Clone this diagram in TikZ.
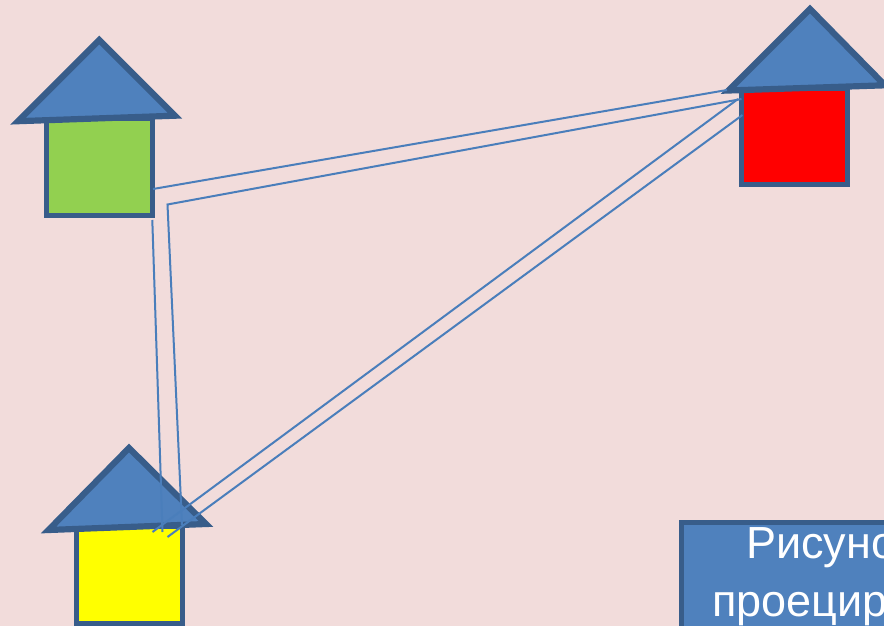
\documentclass[tikz,border=0pt]{standalone}
\usepackage{fontspec}
\setmainfont{Liberation Sans}
\definecolor{bgc}{HTML}{F2DCDB}
\definecolor{fillc}{HTML}{4F81BD}
\definecolor{edgec}{HTML}{385D8A}
\definecolor{linec}{HTML}{4A7EBB}
\definecolor{greenc}{HTML}{92D050}
\definecolor{yellowc}{HTML}{FFFF00}
\definecolor{redc}{HTML}{FF0000}
\tikzset{
  shapeline/.style={draw=edgec,line width=5.6pt,miter limit=10,line join=miter},
  roofshape/.style={shapeline,line width=6.2pt,fill=fillc},
  wire/.style={draw=linec,line width=2pt},
  caption/.style={text=white,font=\fontsize{45}{45}\selectfont,inner sep=0pt,anchor=base west}
}
\begin{document}
\begin{tikzpicture}[x=1pt,y=-1pt]
\useasboundingbox (0,0) rectangle (884,626);
\clip (0,0) rectangle (884,626);
\fill[bgc] (0,0) rectangle (884,626);
% house bodies
\draw[shapeline,fill=greenc] (46.5,118) rectangle (152.5,215.5);
\draw[shapeline,fill=redc] (741.5,88) rectangle (847.5,184.5);
\draw[shapeline,fill=yellowc] (76.5,526) rectangle (182.5,623.5);
% roofs
\draw[roofshape] (99.3,40) -- (175,115.7) -- (18,121.2) -- cycle;
\draw[roofshape] (810,9) -- (885,85.3) -- (728.5,90.5) -- cycle;
\draw[roofshape] (129,448) -- (206,524) -- (48.5,530) -- cycle;
% connector ends
\coordinate (a1) at (153,189);
\coordinate (a2) at (727,90);
\coordinate (b1) at (741.5,99);
\coordinate (b2) at (167.5,204.5);
\coordinate (b3) at (182,525);
\coordinate (c1) at (152.3,220);
\coordinate (c2) at (162.5,532);
\coordinate (d1) at (738,99);
\coordinate (d2) at (152.5,532);
\coordinate (e1) at (742.5,115);
\coordinate (e2) at (167.5,537);
\draw[wire] (a1) -- (a2);
\draw[wire] (b1) -- (b2) -- (b3);
\draw[wire] (c1) -- (c2);
\draw[wire] (d1) -- (d2);
\draw[wire] (e1) -- (e2);
% caption box
\draw[shapeline,fill=fillc] (681.5,522.5) rectangle (920,660);
\node[caption] (cap1) at (746,558.5) {Рисунок};
\node[caption] (cap2) at (712,616) {проецирование};
\end{tikzpicture}
\end{document}
